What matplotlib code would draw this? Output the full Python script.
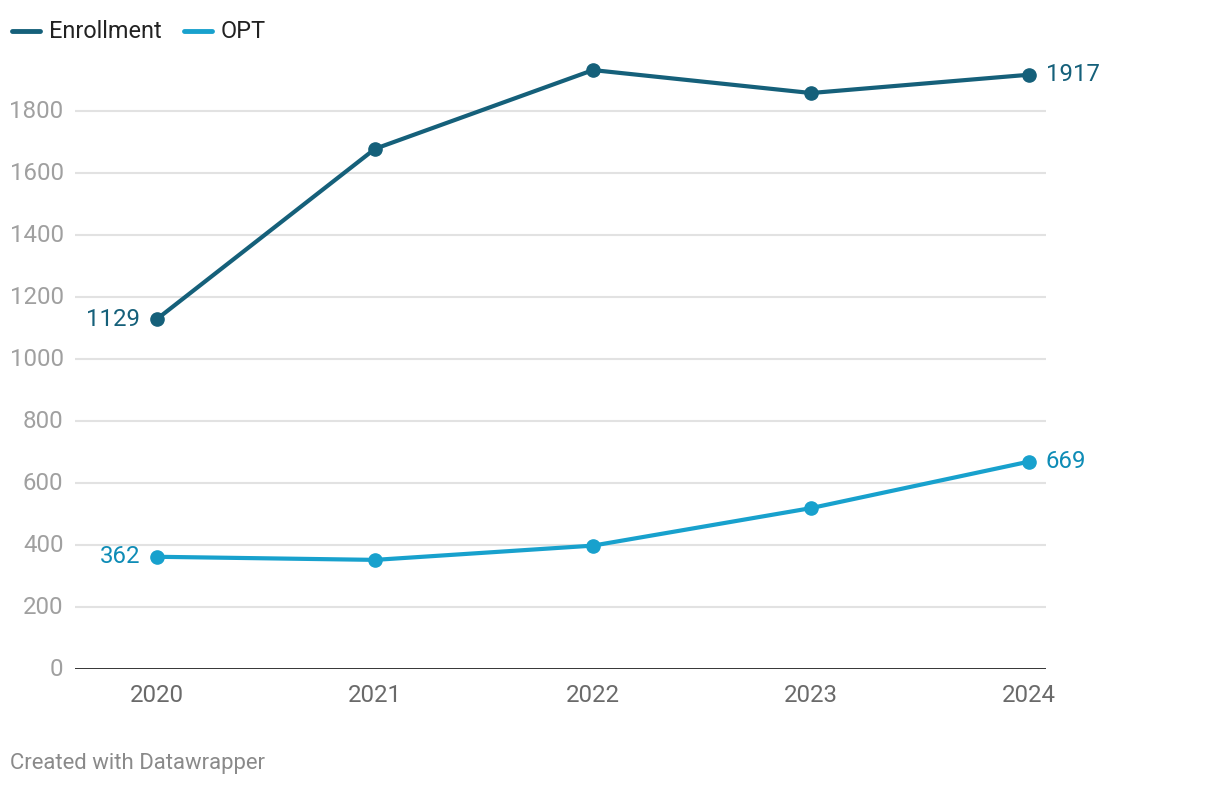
import matplotlib
matplotlib.use("Agg")
import matplotlib.pyplot as plt

years = [2020, 2021, 2022, 2023, 2024]
enrollment = [1129, 1678, 1932, 1858, 1917]
opt = [362, 352, 398, 519, 669]
yticks = [0, 200, 400, 600, 800, 1000, 1200, 1400, 1600, 1800]
series_names = ["Enrollment", "OPT"]

plt.rcParams['font.family'] = ['Roboto', 'DejaVu Sans']

C_ENR = "#15607a"
C_OPT = "#18a1cd"
C_OPT_TXT = "#0e8cb6"

fig = plt.figure(figsize=(12.2, 7.86), dpi=100)
ax = fig.add_axes([75/1220, 117/786, (1046-75)/1220, (669-49)/786])

for v in yticks[1:]:
    ax.axhline(v, color="#e2e2e2", lw=1.5, zorder=0)
ax.axhline(0, color="#222222", lw=2, zorder=1)

ax.plot(years, enrollment, color=C_ENR, lw=3, marker="o", ms=9.5, zorder=3, solid_capstyle="round")
ax.plot(years, opt, color=C_OPT, lw=3, marker="o", ms=9.5, zorder=3, solid_capstyle="round")

ax.set_xlim(2020 - 82/218, 2024 + 17/218)
ax.set_ylim(0, 2000)
for s in ax.spines.values():
    s.set_visible(False)
ax.set_yticks([])
ax.set_xticks([])

fs = 17.3
for v in yticks:
    fig.text(63.5/1220, (786 - (669 - v*0.31))/786, str(v), ha="right", va="center",
             fontsize=fs, color="#a0a0a0")
for y in years:
    ax.annotate(str(y), (y, 0), xytext=(0, -19), textcoords="offset points",
                ha="center", va="center", fontsize=fs, color="#6a6a6a")

ax.annotate(str(enrollment[0]), (years[0], enrollment[0]), xytext=(-12, 0), textcoords="offset points",
            ha="right", va="center", fontsize=fs, color=C_ENR)
ax.annotate(str(enrollment[-1]), (years[-1], enrollment[-1]), xytext=(12, 0), textcoords="offset points",
            ha="left", va="center", fontsize=fs, color=C_ENR)
ax.annotate(str(opt[0]), (years[0], opt[0]), xytext=(-12, 0), textcoords="offset points",
            ha="right", va="center", fontsize=fs, color=C_OPT_TXT)
ax.annotate(str(opt[-1]), (years[-1], opt[-1]), xytext=(12, 0), textcoords="offset points",
            ha="left", va="center", fontsize=fs, color=C_OPT_TXT)

# legend
H = 786
def fy(p):
    return (H - p) / H
fig.add_artist(plt.Line2D([12/1220, 40/1220], [fy(31), fy(31)], color=C_ENR, lw=3.5, solid_capstyle="round"))
fig.text(49/1220, fy(31), series_names[0], ha="left", va="center", fontsize=16.9, color="#222222")
fig.add_artist(plt.Line2D([184/1220, 212/1220], [fy(31), fy(31)], color=C_OPT, lw=3.5, solid_capstyle="round"))
fig.text(221/1220, fy(31), series_names[1], ha="left", va="center", fontsize=16.9, color="#222222")

fig.text(10/1220, fy(763), "Created with Datawrapper", ha="left", va="center", fontsize=15.9, color="#8a8a8a")

fig.savefig("out.png", dpi=100, facecolor="white")
